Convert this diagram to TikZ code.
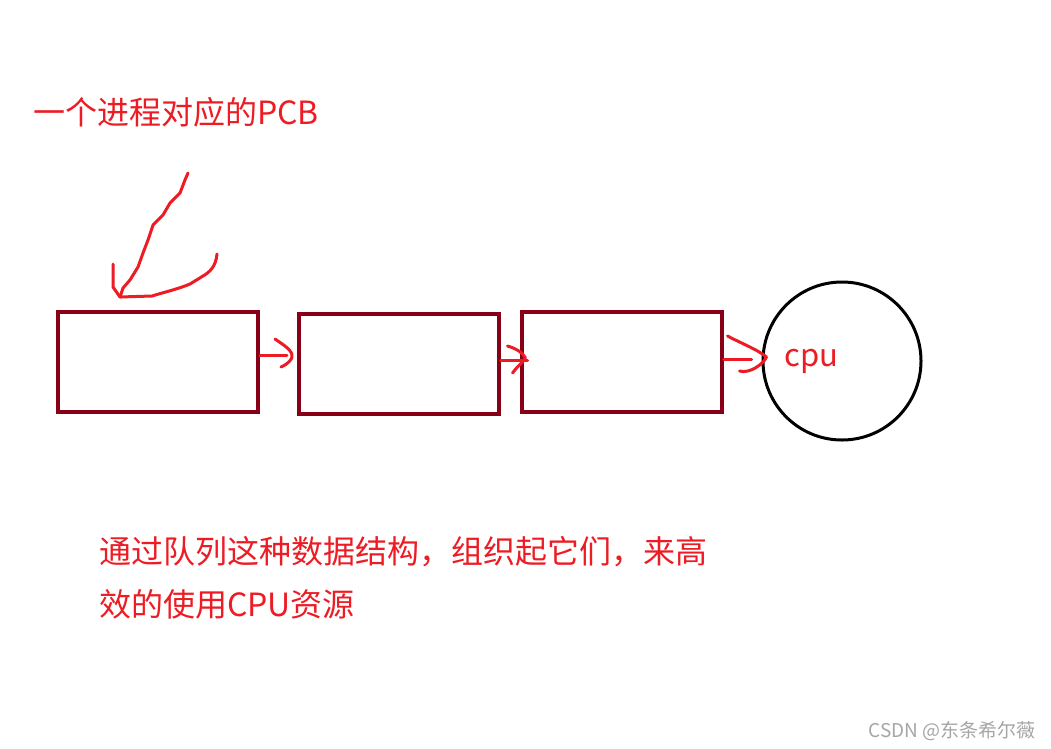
\documentclass[tikz,border=0pt]{standalone}
\usepackage{fontspec}
\setmainfont{Noto Sans CJK SC}
\definecolor{penred}{RGB}{237,28,36}
\definecolor{boxred}{RGB}{136,0,21}
\tikzset{
  pcb/.style={draw=boxred,line width=4pt,minimum width=200pt,minimum height=100pt,inner sep=0pt},
  pen/.style={draw=penred,line width=3pt,line cap=round,line join=round},
  note/.style={text=penred,font=\fontsize{32}{36}\selectfont,inner sep=0pt,anchor=base west}
}

\begin{document}
\begin{tikzpicture}[x=1pt,y=-1pt]
            \useasboundingbox[fill=white] (0,0) rectangle (1051,748);

            % queue of PCBs and the cpu
            \node[pcb] (p1) at (158,362) {};
            \node[pcb] (p2) at (398.5,364) {};
            \node[pcb] (p3) at (621.5,362) {};
            \node[draw=black,line width=3pt,circle,minimum size=158pt,inner sep=0pt] (cpu) at (842,361) {};
            \node[text=penred,font=\fontsize{31}{34}\selectfont,inner sep=0pt,anchor=base west] (cpulabel) at (784,366) {cpu};

            % hand drawn arrows between them
            \draw[pen] ([yshift=7pt]p1.east) -- ([shift={(27pt,7pt)}]p1.east);
            \draw[pen] ([shift={(21pt,-5pt)}]p1.east) .. controls ([shift={(28pt,-2pt)}]p1.east) and ([shift={(33pt,3pt)}]p1.east) .. ([shift={(32pt,7pt)}]p1.east)
              .. controls ([shift={(31pt,13pt)}]p1.east) and ([shift={(22pt,18pt)}]p1.east) .. ([shift={(15pt,23pt)}]p1.east);
            \draw[pen] ([yshift=4pt]p2.east) -- ([shift={(27pt,4pt)}]p2.east);
            \draw[pen] ([shift={(12pt,-9pt)}]p2.east) .. controls ([shift={(16pt,-3pt)}]p2.east) and ([shift={(22pt,1pt)}]p2.east) .. ([shift={(25pt,6pt)}]p2.east)
              .. controls ([shift={(22pt,12pt)}]p2.east) and ([shift={(14pt,16pt)}]p2.east) .. ([shift={(7pt,18pt)}]p2.east);
            \draw[pen] ([yshift=3pt]p3.east) -- ([shift={(28pt,3pt)}]p3.east);
            \draw[pen] ([shift={(16pt,-9pt)}]p3.east) .. controls ([shift={(26pt,-12pt)}]p3.east) and ([shift={(40pt,-2pt)}]p3.east) .. ([shift={(43pt,5pt)}]p3.east)
              .. controls ([shift={(35pt,12pt)}]p3.east) and ([shift={(15pt,20pt)}]p3.east) .. ([shift={(4pt,26pt)}]p3.east);

            % pointer to the first PCB
            \coordinate (tip) at (120,297);
            \draw[pen] (113,264) -- (113,287) -- (tip);
            \draw[pen] (188,173) -- (185,180) -- (180,193) -- (170,203) -- (163,215) -- (153,225) -- (148,240) -- (143,253) -- (138,267) -- (130,280) -- (123,288) -- (tip);
            \draw[pen] (tip) -- (152,296) .. controls (165,292) and (178,289) .. (190,284) -- (203,276) .. controls (210,272) and (216,266) .. (217,254);

            % texts
            \node[note] (title) at (33,124) {一个进程对应的PCB};
            \node[note] (line1) at (99,563) {通过队列这种数据结构，组织起它们，来高};
            \node[note] (line2) at (99,616) {效的使用CPU资源};
            \node[text=black!35,font=\fontsize{19}{21}\selectfont,inner sep=0pt,anchor=base east] (mark) at (1036,737) {CSDN @东条希尔薇};
        \end{tikzpicture}
\end{document}
